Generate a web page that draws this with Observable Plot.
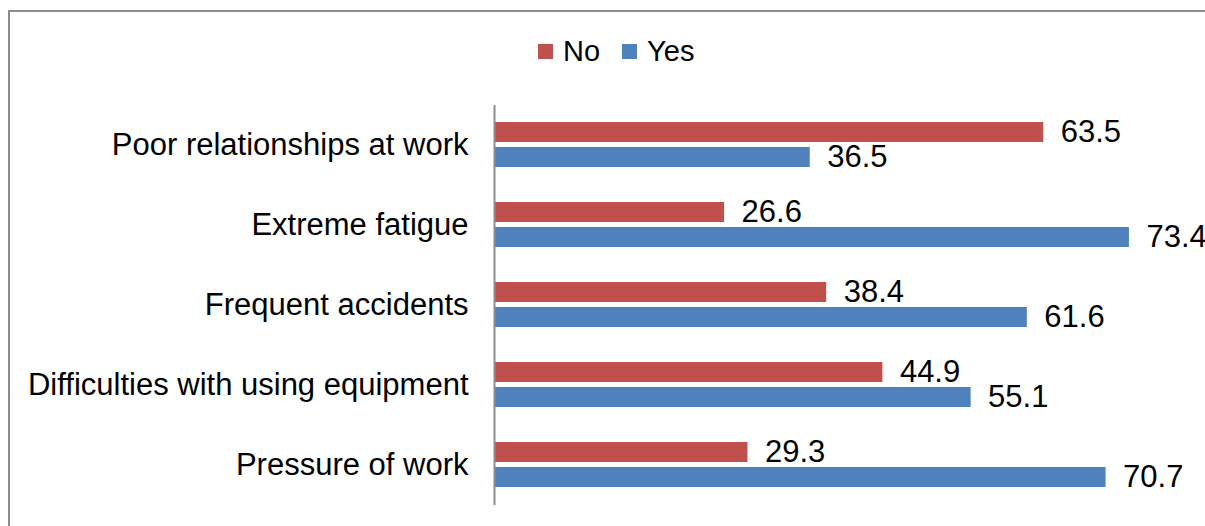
<!DOCTYPE html>
<html><head><meta charset="utf-8">
<script src="https://cdn.jsdelivr.net/npm/d3@7"></script>
<script src="https://cdn.jsdelivr.net/npm/@observablehq/plot@0.6"></script>
<style>
html,body{margin:0;padding:0;background:#fff;overflow:hidden;width:1205px;height:526px;font-family:"Liberation Sans",Arial,sans-serif;}
#frame{position:absolute;left:8px;top:10px;width:1240px;height:560px;border:2px solid #8c8c8c;box-sizing:border-box;background:#fff;}
#legend{position:relative;height:83px;}
#legend .items{position:absolute;left:528px;top:24px;display:flex;align-items:center;font-size:29px;line-height:30px;color:#000;}
#legend .sw{width:15px;height:15px;display:inline-block;margin-right:10px;}
#legend .lab{margin-right:22px;}
</style></head>
<body>
<div id="frame"><div id="legend"><div class="items" id="items"></div></div><div id="chart"></div></div>
<script>
const categories = ["Poor relationships at work","Extreme fatigue","Frequent accidents","Difficulties with using equipment","Pressure of work"];
const series = ["No","Yes"];
const colors = ["#C0504D","#4F81BD"];
const noValues = [63.5,26.6,38.4,44.9,29.3];
const yesValues = [36.5,73.4,61.6,55.1,70.7];

const data = [];
categories.forEach((c,i)=>{
  data.push({category:c, series:"No", value:noValues[i]});
  data.push({category:c, series:"Yes", value:yesValues[i]});
});

// legend
const items = document.getElementById("items");
series.forEach((s,i)=>{
  const sw = document.createElement("span"); sw.className="sw"; sw.style.background=colors[i];
  const lb = document.createElement("span"); lb.className="lab"; lb.textContent=s;
  items.appendChild(sw); items.appendChild(lb);
});

const font = '"Liberation Sans", Arial, sans-serif';
const chart = Plot.plot({
  width:1195, height:432,
  marginLeft:484, marginRight:19, marginTop:8, marginBottom:20,
  x:{domain:[0,80], axis:null},
  y:{domain:series, axis:null, paddingInner:0.19, paddingOuter:0.635},
  fy:{domain:categories, padding:0, label:null, axis:null},
  color:{domain:series, range:colors},
  style:{fontFamily:font, fontSize:"30px", color:"#000", background:"transparent", overflow:"visible"},
  marks:[
    Plot.barX(data,{x:"value", y:"series", fy:"category", fill:"series"}),
    Plot.text(data,{x:"value", y:"series", fy:"category", text:d=>d.value.toFixed(1), textAnchor:"start", dx:17, fontSize:31, fill:"#000"}),
    Plot.ruleX([0],{stroke:"#8c8c8c", strokeWidth:2}),
    Plot.axisFy({anchor:"left", tickSize:0, tickPadding:26, fontSize:31, label:null, textAnchor:"end", fill:"#000"})
  ]
});
document.getElementById("chart").appendChild(chart);
</script>
</body></html>
